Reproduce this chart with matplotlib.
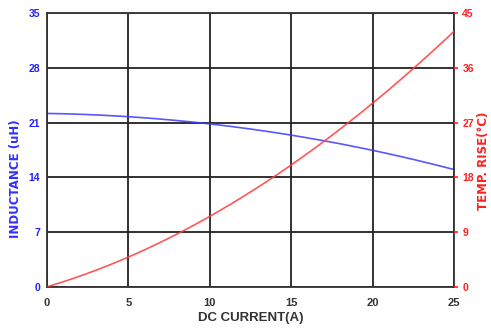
import numpy as np
import matplotlib.pyplot as plt

current = [0, 2.5, 5, 7.5, 10, 12.5, 15, 17.5, 20, 22.5, 25]
inductance = [22.2, 22.0, 21.7, 21.4, 20.9, 20.2, 19.3, 18.5, 17.5, 16.3, 15.0]
temp_rise = [0, 2.3, 4.9, 8.1, 11.5, 15.6, 20.0, 25.0, 30.2, 35.8, 42.0]

ind_ticks = [0, 7, 14, 21, 28, 35]
temp_ticks = [0, 9, 18, 27, 36, 45]
cur_ticks = [0, 5, 10, 15, 20, 25]

plt.rcParams['font.family'] = ['Liberation Sans', 'DejaVu Sans']

fig = plt.figure(figsize=(4.91, 3.34), dpi=100)
ax = fig.add_axes([0.0957, 0.1407, 0.8289, 0.8203])

# smooth the curves through the read-off points
xs = np.linspace(0, 25, 200)
ind_fit = np.polyval(np.polyfit(current, inductance, 3), xs)
temp_fit = np.polyval(np.polyfit(current, temp_rise, 3), xs)

ax.plot(xs, ind_fit, color='#3a3aff', lw=1.2, alpha=0.85)
ax.set_xlim(0, 25)
ax.set_ylim(0, 35)
ax.set_xticks(cur_ticks)
ax.set_yticks(ind_ticks)
ax.grid(True, color='#222222', lw=1.3)
ax.tick_params(axis='y', length=0, pad=5, colors='#2020ff', labelsize=7.5)
ax.tick_params(axis='x', length=0, pad=8, colors='#333333', labelsize=8)
for lab in ax.get_xticklabels() + ax.get_yticklabels():
    lab.set_fontweight('bold')
for s in ax.spines.values():
    s.set_color('#333333')
    s.set_linewidth(1.3)
ax.set_xlabel('DC CURRENT(A)', fontsize=9.5, fontweight='bold', color='#333333', labelpad=3)

lab_font = {'family': 'DejaVu Sans', 'weight': 'bold', 'size': 8.5}
fig.text(0.031, 0.465, 'INDUCTANCE (uH)', rotation=90, ha='center', va='center',
         color='#3030ff', fontdict=lab_font)

ax2 = ax.twinx()
ax2.plot(xs, temp_fit, color='#ff3a3a', lw=1.2, alpha=0.85)
ax2.set_ylim(0, 45)
ax2.set_yticks(temp_ticks)
ax2.tick_params(axis='y', length=3, width=1.2, pad=3, colors='#ff2020', labelsize=7.5)
for lab in ax2.get_yticklabels():
    lab.set_fontweight('bold')
for s in ax2.spines.values():
    s.set_visible(False)
fig.text(0.985, 0.52, 'TEMP. RISE(°C)', rotation=90, ha='center', va='center',
         color='#ff2020', fontdict=lab_font)

fig.savefig('out.png', dpi=100)
